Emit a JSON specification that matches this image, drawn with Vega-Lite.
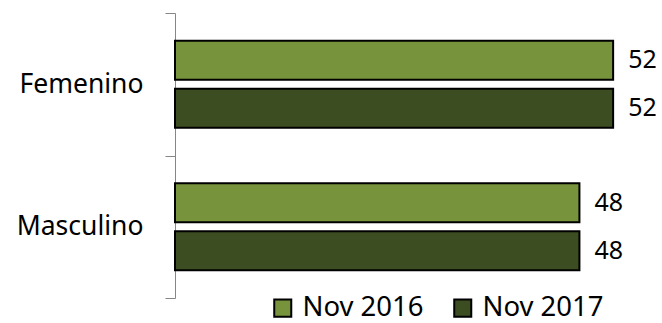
{
  "$schema": "https://vega.github.io/schema/vega-lite/v6.json",
  "width": 487,
  "height": 285,
  "autosize": "none",
  "padding": {"left": 175, "top": 13, "right": 0, "bottom": 25},
  "background": "white",
  "config": {
    "view": {"stroke": null},
    "font": "Noto Sans"
  },
  "data": {
    "values": [
      {"sexo": "Femenino", "periodo": "Nov 2016", "valor": 52},
      {"sexo": "Femenino", "periodo": "Nov 2017", "valor": 52},
      {"sexo": "Masculino", "periodo": "Nov 2016", "valor": 48},
      {"sexo": "Masculino", "periodo": "Nov 2017", "valor": 48}
    ]
  },
  "encoding": {
    "y": {
      "field": "sexo",
      "type": "nominal",
      "sort": ["Femenino", "Masculino"],
      "scale": {"paddingInner": 0, "paddingOuter": 0},
      "axis": {
        "title": null,
        "tickBand": "extent",
        "domainColor": "#868686",
        "tickColor": "#868686",
        "tickSize": 10,
        "labelFontSize": 26.5,
        "labelColor": "#000000",
        "labelPadding": 22,
        "labelFont": "Noto Sans"
      }
    },
    "yOffset": {
      "field": "periodo",
      "type": "nominal",
      "sort": ["Nov 2016", "Nov 2017"],
      "scale": {"paddingInner": 0.1875, "paddingOuter": 0.58}
    },
    "x": {
      "field": "valor",
      "type": "quantitative",
      "scale": {"domain": [0, 57.8]},
      "axis": null
    }
  },
  "layer": [
    {
      "mark": {"type": "bar", "stroke": "#000000", "strokeWidth": 2},
      "encoding": {
        "color": {
          "field": "periodo",
          "type": "nominal",
          "sort": ["Nov 2016", "Nov 2017"],
          "scale": {"domain": ["Nov 2016", "Nov 2017"], "range": ["#77933C", "#3D4D22"]},
          "legend": {
            "title": null,
            "orient": "none",
            "direction": "horizontal",
            "legendX": 94,
            "legendY": 281,
            "symbolType": "square",
            "symbolSize": 290,
            "symbolStrokeColor": "#000000",
            "symbolStrokeWidth": 2,
            "symbolOpacity": 1,
            "labelFontSize": 27.5,
            "labelFont": "Noto Sans",
            "labelColor": "#000000",
            "labelOffset": 6,
            "columnPadding": 25
          }
        }
      }
    },
    {
      "mark": {"type": "text", "align": "left", "baseline": "middle", "dx": 15, "fontSize": 25, "font": "Noto Sans", "color": "#000000"},
      "encoding": {
        "text": {"field": "valor", "type": "quantitative"}
      }
    }
  ]
}
